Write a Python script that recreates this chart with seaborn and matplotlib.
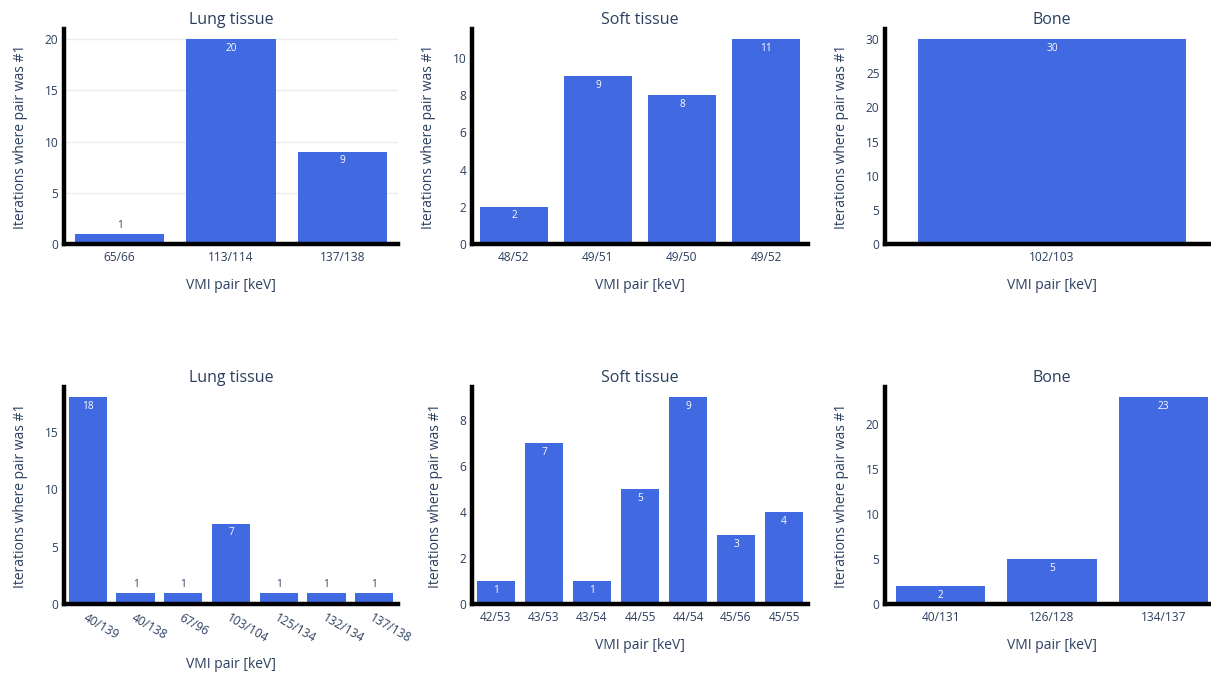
"""
Bar panels: how often each VMI pair ranked #1, per tissue type (two runs)
"""

import numpy as np
import pandas as pd
import matplotlib
matplotlib.use("Agg")
import matplotlib.pyplot as plt
from matplotlib.ticker import MultipleLocator
import seaborn as sns

# ---- data ----
lung_top_pairs = ['65/66', '113/114', '137/138']
lung_top_counts = [1, 20, 9]
soft_top_pairs = ['48/52', '49/51', '49/50', '49/52']
soft_top_counts = [2, 9, 8, 11]
bone_top_pairs = ['102/103']
bone_top_counts = [30]

lung_bot_pairs = ['40/139', '40/138', '67/96', '103/104', '125/134', '132/134', '137/138']
lung_bot_counts = [18, 1, 1, 7, 1, 1, 1]
soft_bot_pairs = ['42/53', '43/53', '43/54', '44/55', '44/54', '45/56', '45/55']
soft_bot_counts = [1, 7, 1, 5, 9, 3, 4]
bone_bot_pairs = ['40/131', '126/128', '134/137']
bone_bot_counts = [2, 5, 23]

titles = ['Lung tissue', 'Soft tissue', 'Bone']
y_steps = [5, 2, 5, 5, 2, 5]

BAR_COLOR = '#4169E1'
TEXT_COLOR = '#2a3f5f'

sns.set_theme(style='white')
plt.rcParams['font.family'] = ['Open Sans', 'DejaVu Sans']

W, H = 1211, 675
fig = plt.figure(figsize=(W / 100, H / 100), dpi=100)

# panel boxes in pixels: (left, right) and (top, bottom)
col_x = [(64, 398), (472, 808), (885, 1219)]
row_y = [(29, 244), (387, 604)]

panels = [
    (lung_top_pairs, lung_top_counts), (soft_top_pairs, soft_top_counts), (bone_top_pairs, bone_top_counts),
    (lung_bot_pairs, lung_bot_counts), (soft_bot_pairs, soft_bot_counts), (bone_bot_pairs, bone_bot_counts),
]

for k, (pairs, counts) in enumerate(panels):
    r, c = divmod(k, 3)
    x0, x1 = col_x[c]
    y0, y1 = row_y[r]
    ax = fig.add_axes([x0 / W, 1 - y1 / H, (x1 - x0) / W, (y1 - y0) / H])

    df = pd.DataFrame({'pair': pairs, 'count': counts})
    sns.barplot(data=df, x='pair', y='count', color=BAR_COLOR, saturation=1,
                width=0.8, linewidth=0, ax=ax, zorder=2)

    ymax = max(counts) * 1.05
    ax.set_ylim(0, ymax)
    ax.set_xlim(-0.5, len(pairs) - 0.5)
    ax.yaxis.set_major_locator(MultipleLocator(y_steps[k]))

    if k == 0:
        ax.yaxis.grid(True, color='#ebebeb', lw=1, zorder=0)
        ax.set_axisbelow(True)

    for s in ['top', 'right']:
        ax.spines[s].set_visible(False)
    for s in ['left', 'bottom']:
        ax.spines[s].set_color('black')
        ax.spines[s].set_linewidth(3.2)
        ax.spines[s].set_zorder(3)

    ax.tick_params(axis='both', length=0, labelsize=8.6, labelcolor=TEXT_COLOR)
    ax.tick_params(axis='y', pad=4)
    ax.tick_params(axis='x', pad=5)

    # bar value labels, inside top when the bar is tall enough
    px_per_unit = (y1 - y0) / ymax
    for i, v in enumerate(counts):
        if v * px_per_unit > 15:
            ax.annotate(str(v), (i, v), xytext=(0, -9), textcoords='offset pixels',
                        ha='center', va='center', fontsize=7.3, color='white', zorder=4)
        else:
            ax.annotate(str(v), (i, v), xytext=(0, 8), textcoords='offset pixels',
                        ha='center', va='center', fontsize=7.3, color=TEXT_COLOR, zorder=4)

    ax.set_title(titles[c], fontsize=11.5, color=TEXT_COLOR, pad=3.5)
    ax.set_ylabel('Iterations where pair was #1', fontsize=10, color=TEXT_COLOR, labelpad=12)

    if k == 3:
        plt.setp(ax.get_xticklabels(), rotation=-30, ha='left', rotation_mode='anchor')
        ax.set_xlabel('VMI pair [keV]', fontsize=10, color=TEXT_COLOR, labelpad=9)
    else:
        ax.set_xlabel('VMI pair [keV]', fontsize=10, color=TEXT_COLOR, labelpad=10)

fig.savefig('out.png', dpi=100, facecolor='white')
